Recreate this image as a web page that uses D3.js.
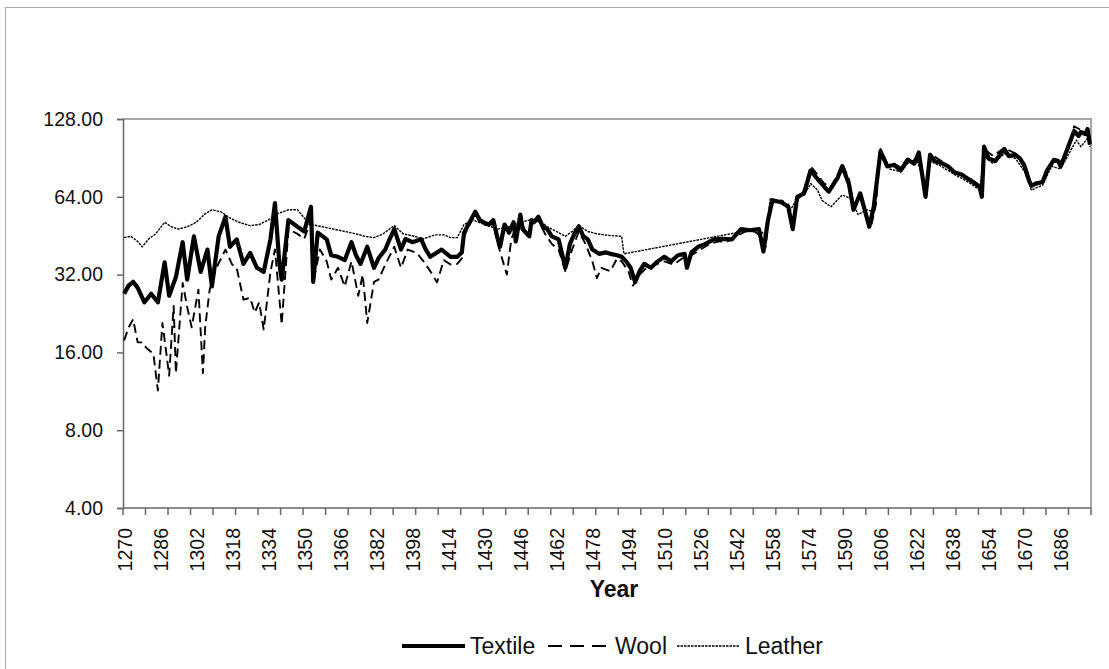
<!DOCTYPE html>
<html>
<head>
<meta charset="utf-8">
<script src="https://cdn.jsdelivr.net/npm/d3@7"></script>
<style>
  body { margin: 0; background: #fff; }
  svg text { font-family: "Liberation Sans", Arial, sans-serif; fill: #111; }
</style>
</head>
<body>
<div id="chart"></div>
<script>
// Price indices by year (log2 scale)
var textileYears = [1270,1272,1274,1276,1279,1282,1285,1288,1290,1293,1296,1298,1301,1304,1307,1309,1312,1315,1317,1320,1323,1326,1329,1332,1335,1337,1339,1340,1343,1347,1350,1353,1354,1356,1360,1362,1365,1368,1371,1373,1375,1378,1381,1383,1386,1388,1390,1393,1395,1398,1402,1404,1406,1409,1411,1415,1418,1420,1421,1424,1426,1428,1430,1432,1434,1436,1437,1439,1441,1443,1444,1446,1447,1448,1450,1451,1452,1454,1456,1458,1460,1463,1466,1468,1470,1472,1474,1476,1478,1481,1484,1486,1489,1491,1493,1495,1497,1499,1501,1504,1507,1510,1513,1516,1519,1520,1522,1525,1528,1532,1536,1540,1544,1548,1552,1554,1556,1558,1562,1565,1567,1569,1572,1575,1578,1581,1583,1587,1589,1592,1594,1597,1601,1603,1606,1609,1612,1615,1618,1621,1623,1626,1628,1630,1633,1636,1639,1642,1645,1648,1650,1651,1652,1654,1657,1659,1661,1663,1666,1668,1670,1672,1673,1675,1678,1680,1683,1685,1686,1689,1692,1694,1695,1697,1698,1699];
var textileValues = [27,29,30,28.5,25,27,25,35.7,26.5,31.3,42.7,30.6,45,32.8,40,28.8,45,53.5,41,43.8,35.2,38.8,34,32.8,43.8,60.5,35,30.6,52,49,47,58.6,30,46.5,43.8,38,37.5,36.4,42.7,38,35.2,41,34,37,40,44,48,40,44,42.7,43.8,40,37.5,39,40,37.5,37.5,39,46.5,52,56,52,50.8,50,52,43.8,41,50,46.5,51,43,54.6,48,47,45,52,51,53.6,49,48,45,43.8,34,42,46,49.2,45,43.8,40,38.5,39,38.5,38,37.5,36,34,29.9,33,35.2,34,36,37.5,36,38,38.5,34,39,41,42,43.8,44,43.8,48,47.5,48,39.3,52,62,61,58.6,48,64,66,81,75,70,67,76,84,71.5,57,66,49,58.6,96,84,85,81,89,86,95,64,93,88,86.5,84,79.5,78,75,72,70,64,100,90,88,93,98,92,93,90,84,74,70.6,72,73,81,89,88,84,98,115,110,114,112,117,102];

var woolYears = [1270,1272,1274,1276,1278,1280,1283,1285,1287,1289,1290,1292,1293,1296,1298,1300,1303,1305,1306,1308,1311,1315,1318,1320,1323,1326,1328,1330,1332,1335,1337,1340,1343,1347,1350,1353,1354,1357,1360,1362,1365,1368,1371,1374,1376,1378,1381,1383,1386,1390,1393,1396,1400,1403,1406,1409,1412,1415,1418,1420,1421,1424,1426,1428,1430,1434,1436,1440,1442,1446,1449,1451,1454,1457,1460,1463,1466,1469,1472,1475,1478,1480,1482,1486,1489,1491,1494,1496,1499,1502,1506,1510,1514,1518,1522,1526,1530,1534,1538,1542,1546,1550,1553,1555,1557,1562,1565,1567,1569,1572,1575,1578,1581,1584,1587,1589,1592,1594,1597,1600,1602,1604,1606,1609,1612,1615,1618,1621,1623,1626,1628,1633,1639,1645,1650,1651,1652,1656,1661,1666,1670,1673,1678,1681,1684,1686,1690,1692,1695,1697,1698,1699];
var woolValues = [17.8,20,21.5,17.5,17.5,16.6,15.8,11.4,20.8,15.3,13,24.2,13.3,29.7,24,20,28,13.3,20,28,34,40,35,34,25.6,26,22.8,25,19.6,32.8,40,20.5,48,46,44,52,30,40,36,30.6,34,28.8,36,26.5,32,20.8,30,30.6,35,41,34,40,38.8,36,33,29.9,36.4,35,35.2,37,45,51,55,51,50,50,42,32,44,53,45,50,52,46,42,40,33,40,47,42,36,31,34,33,37,36,33,29,32,34,35,36,35,37,38,40,42,43,43,45,47,47,45,41,60,62,60,50,62,68,84,78,72,70,78,86,75,59,64,52,50,60,98,86,86,83,90,88,96,66,94,88,80,76,71,65,98,92,99,94,86,71,75,83,90,86,100,120,116,112,120,105];

var leatherYears = [1270,1273,1276,1278,1281,1284,1288,1291,1294,1298,1302,1306,1309,1313,1317,1321,1326,1330,1334,1338,1343,1347,1350,1353,1358,1363,1368,1373,1377,1381,1385,1390,1394,1399,1403,1408,1412,1415,1418,1421,1425,1430,1436,1441,1446,1450,1454,1458,1462,1466,1469,1472,1476,1480,1486,1491,1492,1545,1550,1553,1555,1557,1562,1566,1569,1572,1575,1578,1580,1584,1589,1593,1596,1600,1603,1606,1610,1615,1618,1622,1626,1628,1633,1639,1645,1650,1652,1656,1661,1666,1670,1673,1678,1682,1686,1690,1693,1695,1698,1699];
var leatherValues = [44.5,45,43,41,44,46,51,49,48,49,51,55,57,56,53,51,49.5,50,52,55,57,57,53,50,49,48,47,46,45,44.5,46,49.5,46,45,44,45.6,45.6,44.5,44.5,50,52,50,48,49,51,52,52,49,47,45,47,49.5,47,46,45.3,45,38.5,47,48,47,45,63,61,57,63,65,72,68,62,58.6,65,63,54.6,57,56,92,82,80,86,90,70,88,84,78,73,68,92,86,94,90,80,68,71,84,82,95,106,100,108,100];

var yTickValues = [4, 8, 16, 32, 64, 128];
var yearLabels = d3.range(1270, 1700, 16);   // 1270, 1286, ... 1686
var yearTicks = d3.range(1270, 1701, 10);

var width = 1109, height = 669;
var plot = { left: 123, right: 1091, top: 119, bottom: 508 };

var svg = d3.select("#chart").append("svg")
    .attr("width", width)
    .attr("height", height);

// outer chart border
svg.append("rect")
    .attr("x", 5.5).attr("y", 7.5)
    .attr("width", width + 10).attr("height", height + 10)
    .attr("fill", "none")
    .attr("stroke", "#aaa")
    .attr("stroke-width", 1);

var x = d3.scaleLinear().domain([1270, 1700]).range([plot.left, plot.right]);
var y = d3.scaleLog().base(2).domain([4, 128]).range([plot.bottom, plot.top]);

// plot frame (top and right)
svg.append("path")
    .attr("d", "M" + plot.left + "," + plot.top + "H" + plot.right + "V" + plot.bottom)
    .attr("fill", "none")
    .attr("stroke", "#8a8a8a")
    .attr("stroke-width", 1.5);

// y axis
var yAxis = svg.append("g")
    .attr("transform", "translate(" + plot.left + ",0)")
    .call(d3.axisLeft(y).tickValues(yTickValues).tickFormat(d3.format(".2f")).tickSize(6).tickPadding(14));
yAxis.select(".domain").attr("stroke", "#666").attr("stroke-width", 1.5);
yAxis.selectAll(".tick line").attr("stroke", "#666").attr("stroke-width", 1.5);
yAxis.selectAll(".tick text")
    .style("font-size", "19.5px")
    .style("font-family", "'Liberation Sans', Arial, sans-serif")
    .attr("fill", "#111");

// x axis: ticks every 10 years, labels every 16 years (category style)
var xAxis = svg.append("g");
xAxis.append("line")
    .attr("x1", plot.left).attr("x2", plot.right)
    .attr("y1", plot.bottom).attr("y2", plot.bottom)
    .attr("stroke", "#666").attr("stroke-width", 1.5);
xAxis.selectAll(".xtick")
    .data(yearTicks)
    .enter().append("line")
    .attr("class", "xtick")
    .attr("x1", function (d) { return x(d); })
    .attr("x2", function (d) { return x(d); })
    .attr("y1", plot.bottom)
    .attr("y2", plot.bottom + 7)
    .attr("stroke", "#666").attr("stroke-width", 1.5);
xAxis.selectAll(".xlabel")
    .data(yearLabels)
    .enter().append("text")
    .attr("class", "xlabel")
    .attr("transform", function (d) { return "translate(" + (x(d + 0.5) + 1) + "," + (plot.bottom + 20) + ") rotate(-90)"; })
    .attr("dy", "0.35em")
    .attr("text-anchor", "end")
    .style("font-size", "19.5px")
    .text(function (d) { return d; });

svg.append("text")
    .attr("x", 614).attr("y", 597)
    .attr("text-anchor", "middle")
    .style("font-size", "23px")
    .style("font-weight", "bold")
    .text("Year");

// series
var series = [
    { name: "Textile", years: textileYears, values: textileValues, width: 4.2, dash: null },
    { name: "Wool", years: woolYears, values: woolValues, width: 1.9, dash: "9,5" },
    { name: "Leather", years: leatherYears, values: leatherValues, width: 1.4, dash: "2.5,1" }
];

var line = d3.line()
    .x(function (d) { return x(d[0] + 0.5); })
    .y(function (d) { return y(d[1]); });

// draw leather and wool beneath the heavy textile line
[series[2], series[1], series[0]].forEach(function (s) {
    var pts = s.years.map(function (yr, i) { return [yr, s.values[i]]; });
    svg.append("path")
        .datum(pts)
        .attr("d", line)
        .attr("fill", "none")
        .attr("stroke", "#000")
        .attr("stroke-width", s.width)
        .attr("stroke-linejoin", "round")
        .attr("stroke-dasharray", s.dash);
});

// legend
var legendItems = [
    { s: series[0], x1: 402, x2: 465, tx: 470 },
    { s: series[1], x1: 548, x2: 611, tx: 615 },
    { s: series[2], x1: 677, x2: 740, tx: 745 }
];
var legend = svg.append("g");
legendItems.forEach(function (it) {
    legend.append("line")
        .attr("x1", it.x1).attr("x2", it.x2)
        .attr("y1", 646).attr("y2", 646)
        .attr("stroke", "#000")
        .attr("stroke-width", it.s.name === "Textile" ? 4 : it.s.width)
        .attr("stroke-dasharray", it.s.name === "Wool" ? "14,8" : it.s.dash);
    legend.append("text")
        .attr("x", it.tx).attr("y", 654)
        .style("font-size", "23px")
        .text(it.s.name);
});
</script>
</body>
</html>
